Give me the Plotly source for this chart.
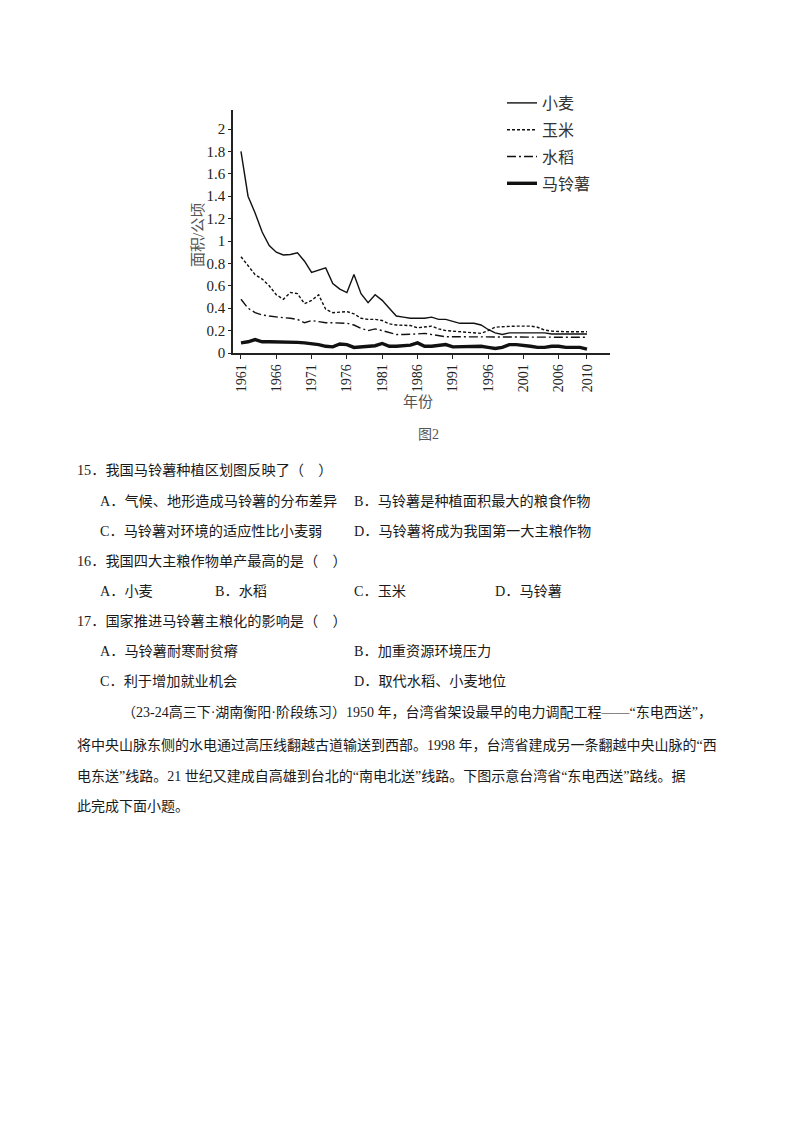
import plotly.graph_objects as go

years = list(range(1961, 2011))

wheat = [1.80, 1.40, 1.25, 1.08, 0.96, 0.90, 0.875, 0.88, 0.895, 0.82,
         0.72, 0.74, 0.76, 0.62, 0.57, 0.54, 0.70, 0.53, 0.45, 0.52,
         0.47, 0.40, 0.33, 0.32, 0.31, 0.31, 0.31, 0.32, 0.30, 0.30,
         0.28, 0.265, 0.265, 0.265, 0.25, 0.21, 0.18, 0.165, 0.18, 0.18,
         0.175, 0.175, 0.18, 0.18, 0.17, 0.17, 0.165, 0.17, 0.17, 0.17]

corn = [0.86, 0.78, 0.70, 0.66, 0.60, 0.52, 0.48, 0.54, 0.53, 0.44,
        0.47, 0.52, 0.39, 0.36, 0.365, 0.37, 0.35, 0.31, 0.30, 0.30,
        0.29, 0.26, 0.25, 0.25, 0.245, 0.225, 0.23, 0.24, 0.215, 0.20,
        0.195, 0.19, 0.185, 0.18, 0.175, 0.20, 0.23, 0.235, 0.24, 0.24,
        0.24, 0.24, 0.23, 0.205, 0.195, 0.19, 0.19, 0.19, 0.19, 0.19]

rice = [0.48, 0.40, 0.36, 0.34, 0.33, 0.32, 0.315, 0.31, 0.30, 0.27,
        0.29, 0.28, 0.27, 0.27, 0.27, 0.265, 0.25, 0.22, 0.20, 0.215,
        0.20, 0.18, 0.165, 0.165, 0.165, 0.17, 0.175, 0.165, 0.15, 0.145,
        0.145, 0.145, 0.145, 0.145, 0.145, 0.145, 0.145, 0.145, 0.145, 0.145,
        0.145, 0.145, 0.14, 0.14, 0.14, 0.14, 0.14, 0.14, 0.14, 0.14]

potato = [0.09, 0.10, 0.12, 0.10, 0.10, 0.10, 0.10, 0.10, 0.095, 0.09,
          0.085, 0.075, 0.06, 0.055, 0.08, 0.075, 0.05, 0.055, 0.065, 0.065,
          0.085, 0.06, 0.06, 0.065, 0.07, 0.09, 0.06, 0.06, 0.065, 0.075,
          0.055, 0.055, 0.06, 0.06, 0.06, 0.05, 0.04, 0.05, 0.075, 0.075,
          0.07, 0.06, 0.05, 0.05, 0.06, 0.06, 0.05, 0.05, 0.05, 0.035]

series_names = ["小麦", "玉米", "水稻", "马铃薯"]
x_tickvals = [1961, 1966, 1971, 1976, 1981, 1986, 1991, 1996, 2001, 2006, 2010]
y_tickvals = [0, 0.2, 0.4, 0.6, 0.8, 1, 1.2, 1.4, 1.6, 1.8, 2]
y_ticktext = ["0", "0.2", "0.4", "0.6", "0.8", "1", "1.2", "1.4", "1.6", "1.8", "2"]

W, H = 800, 1132
PL, PR, PT, PB = 233, 610, 110, 353  # plot area in pixels


def px(x):
    return (x - PL) / (PR - PL)


def py(y):
    return (PB - y) / (PB - PT)


SERIF = "Liberation Serif, Noto Sans CJK SC, serif"
CJK = "Liberation Serif, Noto Sans CJK SC, sans-serif"

fig = go.Figure()
styles = [
    dict(color="#111", width=1.4, dash="solid"),
    dict(color="#111", width=1.4, dash="3px,2px"),
    dict(color="#111", width=1.4, dash="9px,3px,2px,3px"),
    dict(color="#111", width=3.4, dash="solid"),
]
for name, vals, st in zip(series_names, [wheat, corn, rice, potato], styles):
    fig.add_trace(go.Scatter(x=years, y=vals, mode="lines", name=name,
                             line=st, legendgroup=name))

fig.update_layout(
    width=W, height=H,
    margin=dict(l=PL, r=W - PR, t=PT, b=H - PB, pad=0),
    paper_bgcolor="white", plot_bgcolor="white",
    showlegend=True,
    legend=dict(x=px(502), y=py(86), xanchor="left", yanchor="top",
                font=dict(family=CJK, size=16, color="#333"),
                tracegroupgap=3, itemwidth=30, bgcolor="rgba(0,0,0,0)"),
    xaxis=dict(range=[1959.87, 2013.26], tickvals=x_tickvals,
               ticktext=[str(v) for v in x_tickvals], tickangle=-90,
               showline=True, linecolor="#222", linewidth=1.5,
               ticks="outside", ticklen=4, tickcolor="#222", tickwidth=1.2,
               showgrid=False, zeroline=False,
               tickfont=dict(family=SERIF, size=14, color="#222")),
    yaxis=dict(range=[0, 2.17], tickvals=y_tickvals, ticktext=y_ticktext,
               showline=True, linecolor="#222", linewidth=1.5,
               ticks="outside", ticklen=3, tickcolor="#222", tickwidth=1,
               showgrid=False, zeroline=False,
               tickfont=dict(family=SERIF, size=15, color="#222")),
)

ann = []
ann.append(dict(text="面积/公顷", x=px(198), y=py(235), textangle=-90,
                font=dict(family=CJK, size=15, color="#555")))
ann.append(dict(text="年份", x=px(418), y=py(402),
                font=dict(family=CJK, size=15, color="#555")))
ann.append(dict(text="图2", x=px(428), y=py(434),
                font=dict(family=CJK, size=14, color="#555")))
for a in ann:
    a.update(xref="paper", yref="paper", showarrow=False,
             xanchor="center", yanchor="middle")

Q = 14.2
body_lines = [
    ("15．我国马铃薯种植区划图反映了（　）", 75, 470, Q),
    ("A．气候、地形造成马铃薯的分布差异", 98, 501, Q),
    ("B．马铃薯是种植面积最大的粮食作物", 352, 501, Q),
    ("C．马铃薯对环境的适应性比小麦弱", 98, 531, Q),
    ("D．马铃薯将成为我国第一大主粮作物", 352, 531, Q),
    ("16．我国四大主粮作物单产最高的是（　）", 75, 561, Q),
    ("A．小麦", 98, 591, Q),
    ("B．水稻", 213, 591, Q),
    ("C．玉米", 352, 591, Q),
    ("D．马铃薯", 493, 591, Q),
    ("17．国家推进马铃薯主粮化的影响是（　）", 75, 621, Q),
    ("A．马铃薯耐寒耐贫瘠", 98, 651, Q),
    ("B．加重资源环境压力", 352, 651, Q),
    ("C．利于增加就业机会", 98, 681, Q),
    ("D．取代水稻、小麦地位", 352, 681, Q),
    ("（23-24高三下·湖南衡阳·阶段练习）1950 年，台湾省架设最早的电力调配工程——“东电西送”，", 120, 712, 14),
    ("将中央山脉东侧的水电通过高压线翻越古道输送到西部。1998 年，台湾省建成另一条翻越中央山脉的“西", 75, 745, 14),
    ("电东送”线路。21 世纪又建成自高雄到台北的“南电北送”线路。下图示意台湾省“东电西送”路线。据", 75, 776, 14),
    ("此完成下面小题。", 75, 806, 14),
]
for text, x0, y0, fs in body_lines:
    ann.append(dict(text=text, x=px(x0), y=py(y0), xref="paper", yref="paper",
                    showarrow=False, xanchor="left", yanchor="middle",
                    font=dict(family=CJK, size=fs, color="#1a1a1a")))

fig.update_layout(annotations=ann)

fig.write_html("out.html", config={"displayModeBar": False},
               post_script="document.body.style.margin='0';")
